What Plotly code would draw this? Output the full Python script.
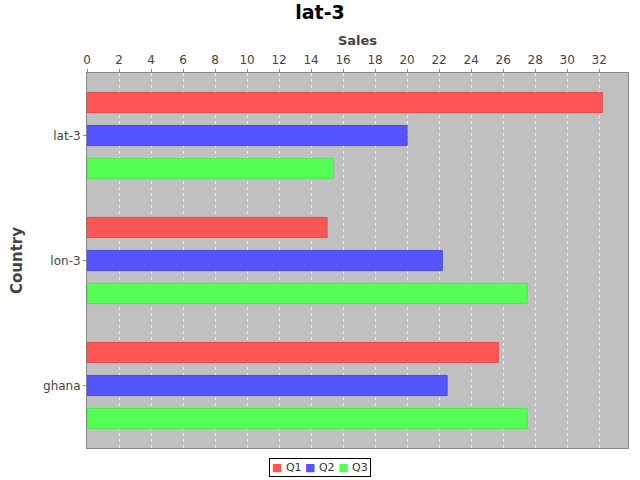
import plotly.graph_objects as go

categories = ["lat-3", "lon-3", "ghana"]
series_names = ["Q1", "Q2", "Q3"]
q1 = [32.2, 15.0, 25.7]
q2 = [20.0, 22.2, 22.5]
q3 = [15.4, 27.5, 27.5]
colors = ["#FF5555", "#5555FF", "#55FF55"]
edge = ["#E84A4A", "#4A4AE8", "#4AE84A"]

fig = go.Figure()
for name, vals, c, e in zip(series_names, [q1, q2, q3], colors, edge):
    fig.add_trace(go.Bar(
        y=categories, x=vals, name=name, orientation="h",
        marker=dict(color=c, line=dict(color=e, width=1)),
        showlegend=False,
    ))

legend_text = "&nbsp;".join(
    f"<span style='color:{c}'>■</span> {n}" for n, c in zip(series_names, colors)
)

fig.update_layout(
    width=640, height=480,
    paper_bgcolor="white", plot_bgcolor="#C0C0C0",
    margin=dict(l=87, r=12, t=73, b=32, autoexpand=False),
    barmode="group", bargap=0.208, bargroupgap=0.39,
    font=dict(family="DejaVu Sans", size=12, color="#444444"),
    title=dict(text="<b>lat-3</b>", x=0.5, xanchor="center", y=0.988, yanchor="top",
               font=dict(size=19, color="black")),
    showlegend=False,
    annotations=[dict(
        text=legend_text, xref="paper", yref="paper", x=(320 - 87) / 541, y=-0.0507,
        xanchor="center", yanchor="middle", showarrow=False,
        bordercolor="black", borderwidth=1, borderpad=2, bgcolor="white",
        font=dict(size=11, color="#333333"),
    )],
)
fig.update_xaxes(
    side="top", range=[0, 33.8], dtick=2, tick0=0,
    showgrid=True, gridcolor="#EEEEEE", griddash="3px,3px", gridwidth=1,
    ticks="outside", ticklen=3, tickcolor="#888888",
    showline=True, linecolor="#888888", mirror=True,
    zeroline=False,
    title=dict(text="<b>Sales</b>", font=dict(size=13, color="#444444"), standoff=4),
    tickfont=dict(size=12, color="#444444"),
)
fig.update_yaxes(
    autorange="reversed", showgrid=False,
    ticks="outside", ticklen=3, tickcolor="#888888",
    showline=True, linecolor="#888888", mirror=True,
    title=dict(text="<b>Country</b>", font=dict(size=15, color="#444444"), standoff=16),
    tickfont=dict(size=12, color="#444444"),
)

fig.write_html("out.html")
